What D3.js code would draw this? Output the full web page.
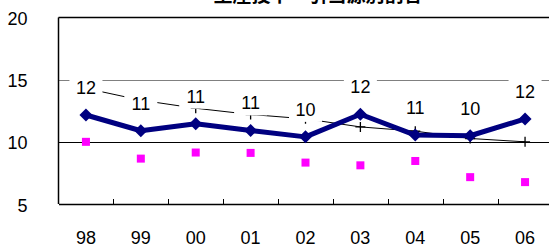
<!DOCTYPE html>
<html><head><meta charset="utf-8">
<script src="https://cdn.jsdelivr.net/npm/d3@7"></script>
<style>
html,body{margin:0;padding:0;background:#fff;overflow:hidden}
svg{display:block}
text{font-family:"Liberation Sans",Arial,sans-serif}
</style></head>
<body>
<svg id="chart" width="549" height="248"></svg>
<script>
const title = "生産投下・引当源別割合";
const years = ["98","99","00","01","02","03","04","05","06"];
const mainSeries = [12.16, 10.89, 11.46, 10.92, 10.40, 12.22, 10.54, 10.49, 11.84];
const mainLabels = ["12","11","11","11","10","12","11","10","12"];
const trendSeries = [14.3, 13.35, 12.7, 12.2, 11.85, 11.2, 10.86, 10.27, 10.0];
const pinkSeries = [10.0, 8.65, 9.14, 9.11, 8.33, 8.11, 8.46, 7.16, 6.76];
const yTicks = [5, 10, 15, 20];

(function () {
const svg = d3.select("#chart");
const mLeft = 58.5, mRight = 552.5, mTop = 17.5, mBottom = 204;

const x = d3.scaleBand().domain(years).range([mLeft, mRight]).padding(0);
const y = d3.scaleLinear().domain([5, 20]).range([mBottom, mTop]);
const cx = d => x(d) + x.bandwidth() / 2;

// title (mostly cut off at top)
svg.append("text").attr("x", 318).attr("y", 2)
  .attr("text-anchor", "middle")
  .style("font-family", "'Noto Sans CJK JP'")
  .style("font-weight", "bold").style("font-size", "19px")
  .text(title);

// gridlines
svg.append("line").attr("x1", mLeft).attr("x2", mRight + 10)
  .attr("y1", Math.round(y(15)) + 0.5).attr("y2", Math.round(y(15)) + 0.5)
  .attr("stroke", "#808080").attr("stroke-width", 1.2);
svg.append("line").attr("x1", mLeft).attr("x2", mRight + 10)
  .attr("y1", Math.round(y(10)) + 0.5).attr("y2", Math.round(y(10)) + 0.5)
  .attr("stroke", "#000").attr("stroke-width", 1);

// frame
svg.append("line").attr("x1", mLeft).attr("x2", mRight + 10).attr("y1", mTop).attr("y2", mTop)
  .attr("stroke", "#000").attr("stroke-width", 1.5);
svg.append("line").attr("x1", mLeft).attr("x2", mLeft).attr("y1", mTop).attr("y2", mBottom)
  .attr("stroke", "#000").attr("stroke-width", 1.5);

// bottom axis with inward ticks at category boundaries
const xAxis = d3.axisBottom(x).tickSize(0).tickFormat("");
const gx = svg.append("g").attr("transform", `translate(0,${mBottom})`).call(xAxis);
gx.select(".domain").attr("stroke", "#000").attr("stroke-width", 1.5);
svg.append("g").selectAll("line").data(years.slice(1)).join("line")
  .attr("x1", d => Math.round(x(d)) + 0.5).attr("x2", d => Math.round(x(d)) + 0.5)
  .attr("y1", mBottom).attr("y2", mBottom - 5)
  .attr("stroke", "#000").attr("stroke-width", 1);

// x labels
svg.append("g").selectAll("text").data(years).join("text")
  .attr("x", d => cx(d)).attr("y", 243.5)
  .attr("text-anchor", "middle").style("font-size", "18px").attr("fill", "#000")
  .text(d => d);

// y labels
svg.append("g").selectAll("text").data(yTicks).join("text")
  .attr("x", 27.5).attr("y", d => y(d) + 7.5)
  .attr("text-anchor", "end").style("font-size", "18px").attr("fill", "#000")
  .text(d => d);

// thin trend line with + markers
const lineGen = d3.line().x((d, i) => cx(years[i])).y(d => y(d));
svg.append("path").datum(trendSeries).attr("d", lineGen)
  .attr("fill", "none").attr("stroke", "#000").attr("stroke-width", 1);
svg.append("g").selectAll("path").data(trendSeries).join("path")
  .attr("d", (d, i) => {
    const px = cx(years[i]), py = y(d);
    return `M${px - 5},${py}H${px + 5}M${px},${py - 5}V${py + 5}`;
  })
  .attr("stroke", "#000").attr("stroke-width", 1.3).attr("fill", "none");

// label boxes covering grid / trend
const lab = svg.append("g").selectAll("g").data(mainSeries).join("g")
  .attr("transform", (d, i) => `translate(${cx(years[i])},${y(d) - 27.5})`);
lab.append("rect").attr("x", -16.5).attr("y", -12.5).attr("width", 33).attr("height", 25)
  .attr("fill", "#fff");
lab.append("text").attr("y", 6.5).attr("text-anchor", "middle")
  .style("font-size", "18px").attr("fill", "#000")
  .text((d, i) => mainLabels[i]);

// pink squares
svg.append("g").selectAll("rect").data(pinkSeries).join("rect")
  .attr("x", (d, i) => cx(years[i]) - 4).attr("y", d => y(d) - 4)
  .attr("width", 8).attr("height", 8).attr("fill", "#ff00ff");

// main navy line with diamonds
svg.append("path").datum(mainSeries).attr("d", lineGen)
  .attr("fill", "none").attr("stroke", "#000080").attr("stroke-width", 5)
  .attr("stroke-linejoin", "round");
svg.append("g").selectAll("path").data(mainSeries).join("path")
  .attr("d", (d, i) => {
    const px = cx(years[i]), py = y(d);
    return `M${px - 6.5},${py}L${px},${py - 6.5}L${px + 6.5},${py}L${px},${py + 6.5}Z`;
  })
  .attr("fill", "#000080");
})();
</script>
</body></html>
